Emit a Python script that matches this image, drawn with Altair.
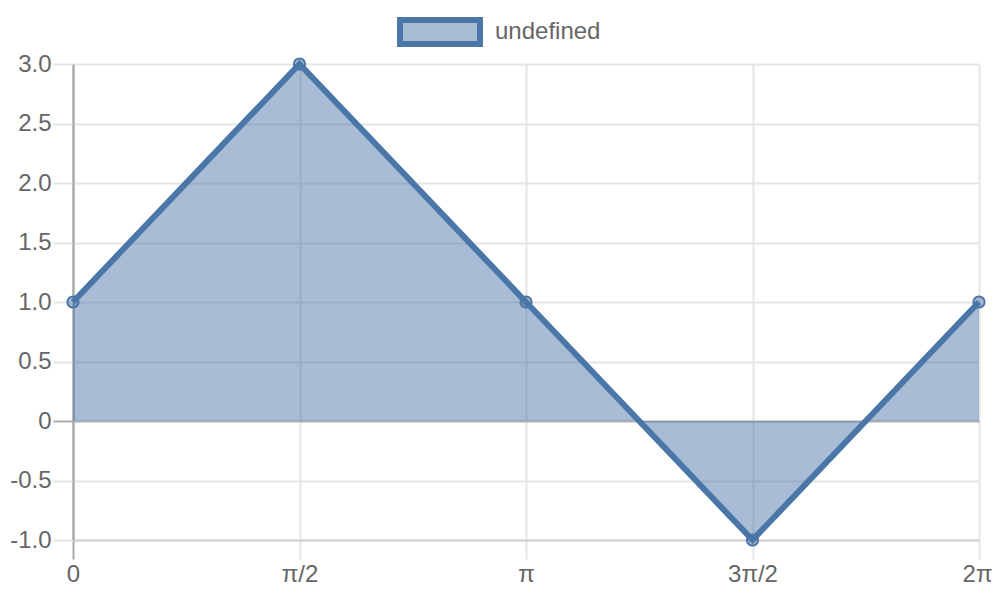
import json
import altair as alt
import pandas as pd

# ---- data ----
x_pos = [0, 1, 2, 3, 4]
x_labels = ["0", "π/2", "π", "3π/2", "2π"]
y_values = [1, 3, 1, -1, 1]
series_name = "undefined"
y_ticks = [-1.0, -0.5, 0, 0.5, 1.0, 1.5, 2.0, 2.5, 3.0]
y_labels = ["-1.0", "-0.5", "0", "0.5", "1.0", "1.5", "2.0", "2.5", "3.0"]

df = pd.DataFrame({"x": x_pos, "y": y_values, "series": [series_name] * len(x_pos)})

LINE = "#4a76a8"
FILL = "rgba(74,118,168,0.48)"
GRID = "#e5e5e5"
TXT = "#666666"
FONT = "Liberation Sans"

x_lab_expr = json.dumps(x_labels) + "[round(datum.value)]"
y_lab_expr = json.dumps(y_labels) + "[round((datum.value + 1) * 2)]"

x_enc = alt.X(
    "x:Q",
    scale=alt.Scale(domain=[0, 4], nice=False, zero=False),
    axis=alt.Axis(
        values=x_pos,
        labelExpr=x_lab_expr,
        title=None,
        grid=True,
        gridColor={"condition": {"test": "datum.value === 0", "value": "#aaaaaa"}, "value": GRID},
        gridWidth=2,
        tickColor={"condition": {"test": "datum.value === 0", "value": "#aaaaaa"}, "value": GRID},
        tickWidth=2,
        tickSize=19,
        domainColor="#cfcfcf",
        domainWidth=2,
        labelFont=FONT,
        labelFontSize=24,
        labelColor=TXT,
        labelPadding=3,
        labelOffset={"condition": {"test": "datum.value === 4", "value": -2}, "value": 0},
        labelFlush=False,
        labelOverlap=False,
    ),
)
y_enc = alt.Y(
    "y:Q",
    scale=alt.Scale(domain=[-1, 3], nice=False),
    axis=alt.Axis(
        values=y_ticks,
        labelExpr=y_lab_expr,
        title=None,
        grid=True,
        gridColor={"condition": {"test": "datum.value === 0", "value": "#b0b0b0"}, "value": GRID},
        gridWidth=2,
        tickColor={"condition": {"test": "datum.value === 0", "value": "#aaaaaa"}, "value": GRID},
        tickWidth=2,
        tickSize=20,
        domainColor="#aaaaaa",
        domainWidth=2,
        labelFont=FONT,
        labelFontSize=24,
        labelColor=TXT,
        labelPadding=2,
        labelFlush=False,
        labelOverlap=False,
    ),
)

base = alt.Chart(df)

area = base.mark_area().encode(
    x=x_enc,
    y=y_enc,
    fill=alt.Fill(
        "series:N",
        scale=alt.Scale(domain=[series_name], range=[FILL]),
        legend=alt.Legend(
            title=None,
            orient="none",
            legendX=324,
            legendY=-75,
            symbolType="M-1,-0.3H1V0.3H-1Z",
            symbolSize=6400,
            symbolStrokeColor=LINE,
            symbolStrokeWidth=6,
            symbolOpacity=1,
            labelFont=FONT,
            labelFontSize=24,
            labelColor=TXT,
            labelOffset=12,
        ),
    ),
)

line = base.mark_line(color=LINE, strokeWidth=6, strokeJoin="miter").encode(x="x:Q", y="y:Q")

points = base.mark_point(
    shape="circle", filled=False, fill=FILL, stroke=LINE, strokeWidth=2, size=125, opacity=1
).encode(x="x:Q", y="y:Q")

chart = (
    alt.layer(area, line, points)
    .properties(
        width=906,
        height=476,
        autosize=alt.AutoSizeParams(type="none"),
        padding={"left": 65, "top": 56, "right": 13, "bottom": 50},
    )
    .configure_view(stroke=None)
    .configure(background="white")
)

chart.save("out.html", embed_options={"renderer": "svg", "actions": False})
